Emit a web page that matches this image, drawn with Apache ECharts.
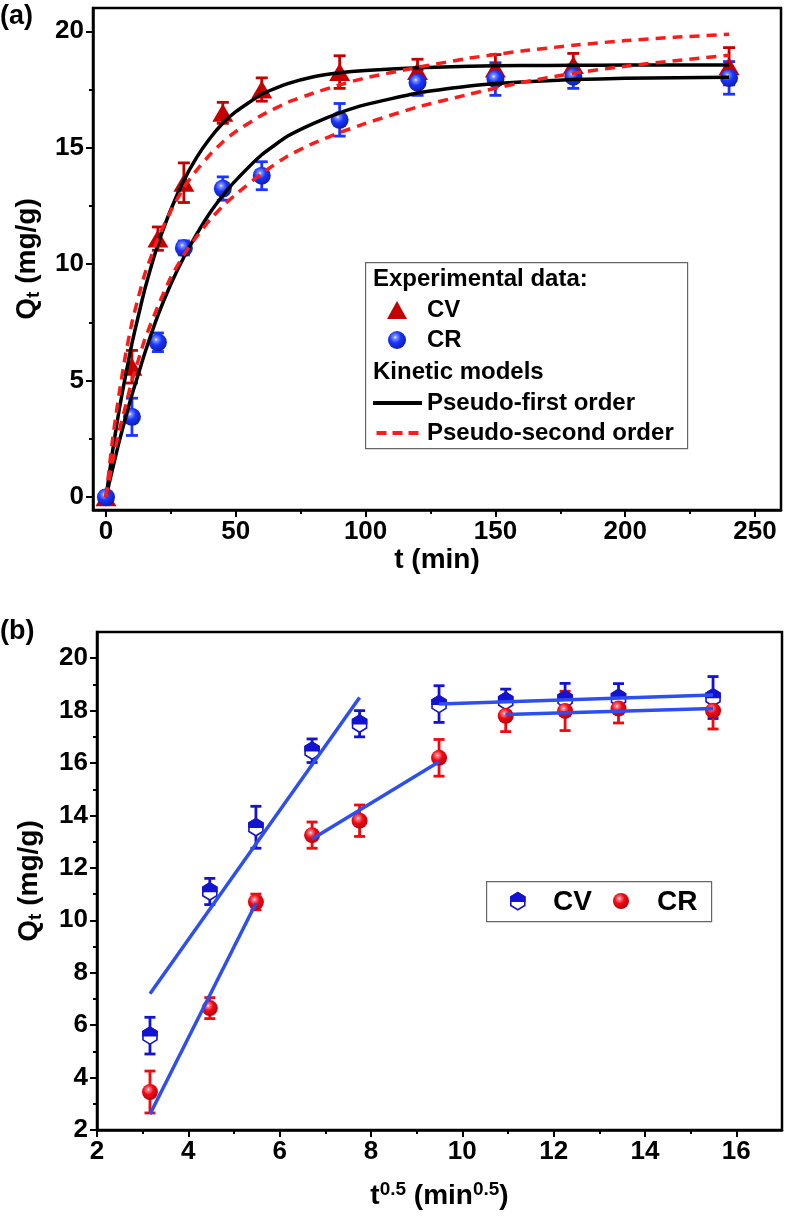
<!DOCTYPE html>
<html><head><meta charset="utf-8">
<script src="https://cdn.jsdelivr.net/npm/echarts@6/dist/echarts.min.js"></script>
<style>html,body{margin:0;padding:0;background:#fff}#c{width:786px;height:1222px}</style>
</head><body><div id="c"></div><script>
// ---------- data, panel (a) ----------
const timeMin = [0, 10, 20, 30, 45, 60, 90, 120, 150, 180, 240];
const cvQ   = [0, 5.6, 11.1, 13.5, 16.5, 17.5, 18.25, 18.3, 18.4, 18.55, 18.5];
const cvErr = [0, 0.7, 0.5, 0.85, 0.45, 0.5, 0.7, 0.5, 0.6, 0.5, 0.8];
const crQ   = [0, 3.45, 6.65, 10.7, 13.25, 13.8, 16.2, 17.8, 17.95, 18.05, 18.0];
const crErr = [0, 0.8, 0.4, 0.3, 0.5, 0.6, 0.7, 0.55, 0.7, 0.5, 0.7];
// model curves at these times
const modelT = [0, 2.5, 5, 7.5, 10, 12.5, 15, 20, 25, 30, 35, 40, 45, 50, 60, 70, 80, 90, 100, 120, 140, 160, 180, 200, 220, 240];
const cvPFO = [0, 1.95, 3.7, 5.2, 6.6, 7.8, 8.95, 10.85, 12.35, 13.6, 14.6, 15.4, 16.05, 16.55, 17.3, 17.75, 18.05, 18.22, 18.32, 18.44, 18.5, 18.53, 18.54, 18.55, 18.55, 18.55];
const cvPSO = [0, 2.45, 4.4, 6.1, 7.5, 8.6, 9.6, 11.1, 12.3, 13.3, 14.05, 14.7, 15.25, 15.7, 16.4, 16.95, 17.35, 17.7, 18.0, 18.45, 18.85, 19.15, 19.4, 19.6, 19.75, 19.87];
const crPFO = [0, 1.2, 2.35, 3.4, 4.4, 5.3, 6.2, 7.8, 9.15, 10.3, 11.3, 12.2, 12.95, 13.6, 14.7, 15.5, 16.05, 16.5, 16.85, 17.35, 17.65, 17.82, 17.93, 17.98, 18.01, 18.03];
const crPSO = [0, 1.5, 2.8, 3.9, 5.0, 5.9, 6.8, 8.2, 9.45, 10.4, 11.2, 11.9, 12.5, 13.0, 13.9, 14.65, 15.2, 15.65, 16.05, 16.75, 17.3, 17.8, 18.2, 18.5, 18.75, 18.97];
// ---------- data, panel (b) ----------
const sqrtT = [3.16, 4.47, 5.48, 6.71, 7.75, 9.49, 10.95, 12.25, 13.42, 15.49];
const cvQb   = [5.6, 11.1, 13.55, 16.47, 17.5, 18.25, 18.37, 18.44, 18.48, 18.5];
const cvErrb = [0.7, 0.5, 0.8, 0.45, 0.5, 0.7, 0.45, 0.6, 0.55, 0.8];
const crQb   = [3.45, 6.65, 10.7, 13.25, 13.8, 16.2, 17.8, 17.99, 18.08, 18.0];
const crErrb = [0.8, 0.4, 0.3, 0.5, 0.6, 0.7, 0.6, 0.75, 0.55, 0.7];
const cvFit1 = [[3.16,7.2],[7.75,18.5]];
const cvFit2 = [[9.49,18.25],[15.49,18.6]];
const crFit1 = [[3.16,2.6],[5.48,10.65]];
const crFit2 = [[6.71,13.1],[9.49,16.05]];
const crFit3 = [[10.95,17.85],[15.49,18.08]];
// ---------- tick labels ----------
const xTicksA = [0, 50, 100, 150, 200, 250];
const xMinorA = [25, 75, 125, 175, 225];
const yTicksA = [0, 5, 10, 15, 20];
const yMinorA = [2.5, 7.5, 12.5, 17.5];
const xTicksB = [2, 4, 6, 8, 10, 12, 14, 16];
const xMinorB = [3, 5, 7, 9, 11, 13, 15];
const yTicksB = [2, 4, 6, 8, 10, 12, 14, 16, 18, 20];
const yMinorB = [3, 5, 7, 9, 11, 13, 15, 17, 19];

const FONT = '"Liberation Sans", Arial, sans-serif';
const chart = echarts.init(document.getElementById('c'), null, {renderer: 'canvas'});

const cRedA = '#c40000', cBlueA = '#1a35ff', cBlueB = '#1414d0', cRedB = '#f00a10', cLineB = '#2d4ff0';

function sphere(base, hi, dark) {
  return {type: 'radial', x: 0.4, y: 0.35, r: 0.7, colorStops: [
    {offset: 0, color: '#ffffff'}, {offset: 0.13, color: hi}, {offset: 0.45, color: base}, {offset: 1, color: dark}]};
}

function errRender(color, capW, lw) {
  return function (params, api) {
    const x = api.value(0), y = api.value(1), e = api.value(2);
    const t = api.coord([x, y + e]), b = api.coord([x, y - e]);
    const h = capW / 2, st = {stroke: color, lineWidth: lw};
    return {type: 'group', children: [
      {type: 'line', shape: {x1: t[0], y1: t[1], x2: b[0], y2: b[1]}, style: st},
      {type: 'line', shape: {x1: t[0] - h, y1: t[1], x2: t[0] + h, y2: t[1]}, style: st},
      {type: 'line', shape: {x1: b[0] - h, y1: b[1], x2: b[0] + h, y2: b[1]}, style: st}
    ]};
  };
}

function hexShapes(cx, cy, w, h, color, z) {
  const full = [[0,-h],[w,-h/2],[w,h/2],[0,h],[-w,h/2],[-w,-h/2]].map(q => [cx + q[0], cy + q[1]]);
  const top = [[-w,0],[-w,-h/2],[0,-h],[w,-h/2],[w,0]].map(q => [cx + q[0], cy + q[1]]);
  const a = {type: 'polygon', shape: {points: full}, style: {fill: '#fff', stroke: color, lineWidth: 1.6}};
  const b = {type: 'polygon', shape: {points: top}, style: {fill: color, stroke: color, lineWidth: 1.6}};
  if (z !== undefined) { a.z = z; b.z = z; }
  return [a, b];
}

const axisLineS = {show: true, onZero: false, lineStyle: {color: '#000', width: 2.5}};
const tickLab = (vals, size) => ({customValues: vals, fontSize: size, fontWeight: 'bold', color: '#000', fontFamily: FONT, margin: 9});
const majorTick = vals => ({show: true, customValues: vals, length: 7, lineStyle: {color: '#000', width: 2}});
const minorAxis = (grid, min, max, vals, pos) => ({
  type: 'value', gridIndex: grid, min: min, max: max, position: pos, axisLine: {show: false, onZero: false},
  axisTick: {show: true, customValues: vals, length: 4, lineStyle: {color: '#000', width: 2}},
  axisLabel: {show: false}, splitLine: {show: false}
});
const nameStyle = {fontSize: 28, fontWeight: 'bold', color: '#000', fontFamily: FONT,
  rich: {n: {fontSize: 28, fontWeight: 'bold', fontFamily: FONT, color: '#000'},
         sub: {fontSize: 19, fontWeight: 'bold', fontFamily: FONT, color: '#000', padding: [13, 0, 0, 0]},
         sup: {fontSize: 19, fontWeight: 'bold', fontFamily: FONT, color: '#000', padding: [0, 0, 14, 0]}}};
const legendText = {fontSize: 24, fontWeight: 'bold', fontFamily: FONT, color: '#000', lineHeight: 24};

const option = {
  animation: false,
  backgroundColor: '#fff',
  title: [
    {text: '(a)', left: 0, top: 3, padding: 0, textStyle: {fontSize: 27, fontWeight: 'bold', fontFamily: FONT, color: '#000'}},
    {text: '(b)', left: 0, top: 618, padding: 0, textStyle: {fontSize: 27, fontWeight: 'bold', fontFamily: FONT, color: '#000'}}
  ],
  grid: [
    {left: 93, top: 8, width: 688, height: 502, show: true, borderColor: '#000', borderWidth: 2.5, backgroundColor: 'transparent'},
    {left: 97, top: 632, width: 685, height: 498, show: true, borderColor: '#000', borderWidth: 2.5, backgroundColor: 'transparent'}
  ],
  xAxis: [
    {type: 'value', gridIndex: 0, min: -5, max: 260, position: 'bottom', axisLine: axisLineS, axisTick: majorTick(xTicksA),
     axisLabel: tickLab(xTicksA, 26), splitLine: {show: false},
     name: 't (min)', nameLocation: 'middle', nameGap: 22, nameTextStyle: nameStyle},
    minorAxis(0, -5, 260, xMinorA, 'bottom'),
    {type: 'value', gridIndex: 1, min: 2, max: 17, position: 'bottom', axisLine: axisLineS, axisTick: majorTick(xTicksB),
     axisLabel: tickLab(xTicksB, 26), splitLine: {show: false},
     name: '{n|t}{sup|0.5}{n| (min}{sup|0.5}{n|)}', nameLocation: 'middle', nameGap: 50, nameTextStyle: nameStyle},
    minorAxis(1, 2, 17, xMinorB, 'bottom')
  ],
  yAxis: [
    {type: 'value', gridIndex: 0, min: -0.55, max: 21, position: 'left', axisLine: axisLineS, axisTick: majorTick(yTicksA),
     axisLabel: tickLab(yTicksA, 26), splitLine: {show: false},
     name: '{n|Q}{sub|t}{n| (mg/g)}', nameLocation: 'middle', nameGap: 50, nameTextStyle: nameStyle},
    minorAxis(0, -0.55, 21, yMinorA, 'left'),
    {type: 'value', gridIndex: 1, min: 2, max: 21, position: 'left', axisLine: axisLineS, axisTick: majorTick(yTicksB),
     axisLabel: tickLab(yTicksB, 26), splitLine: {show: false},
     name: '{n|Q}{sub|t}{n| (mg/g)}', nameLocation: 'middle', nameGap: 52, nameTextStyle: nameStyle},
    minorAxis(1, 2, 21, yMinorB, 'left')
  ],
  legend: [
    {orient: 'vertical', left: 387, top: 298, padding: 0, itemWidth: 20, itemHeight: 18, itemGap: 6,
     data: ['CV', 'CR'], selectedMode: false, z: 6, itemStyle: {opacity: 1},
     textStyle: Object.assign({padding: [0, 0, 0, 15]}, legendText)},
    {orient: 'vertical', left: 373, top: 391, padding: 0, itemWidth: 49, itemHeight: 24, itemGap: 6,
     data: [
       {name: 'Pseudo-first order', icon: 'path://M0 10H49V14H0Z M0 0H0.01V24H0Z'},
       {name: 'Pseudo-second order', icon: 'path://M0 10H10V14H0Z M16 10H26V14H16Z M32 10H42V14H32Z M0 0H0.01V24H0Z'}
     ],
     selectedMode: false, z: 6, textStyle: legendText}
  ],
  graphic: [
    {type: 'rect', left: 365, top: 262, z: 5, shape: {width: 322, height: 186},
     style: {fill: '#fff', stroke: '#666', lineWidth: 1.2}},
    {type: 'text', left: 373, top: 267, z: 6, style: {text: 'Experimental data:', fontSize: 24, fontWeight: 'bold', fontFamily: FONT, fill: '#000'}},
    {type: 'text', left: 373, top: 360, z: 6, style: {text: 'Kinetic models', fontSize: 24, fontWeight: 'bold', fontFamily: FONT, fill: '#000'}},
    // legend of panel (b)
    {type: 'rect', left: 486, top: 881, z: 5, shape: {width: 225, height: 40},
     style: {fill: '#fff', stroke: '#666', lineWidth: 1.2}},
    {type: 'group', left: 510, top: 892, z: 6, children: hexShapes(7, 8.5, 7, 8.5, cBlueB, 7)},
    {type: 'text', left: 553, top: 888, z: 6, style: {text: 'CV', fontSize: 28, fontWeight: 'bold', fontFamily: FONT, fill: '#000'}},
    {type: 'circle', left: 613, top: 893, z: 6, shape: {r: 8}, style: {fill: sphere(cRedB, '#ff7a8a', '#b00010')}},
    {type: 'text', left: 657, top: 888, z: 6, style: {text: 'CR', fontSize: 28, fontWeight: 'bold', fontFamily: FONT, fill: '#000'}}
  ],
  series: [
    // ----- panel (a) -----
    {type: 'custom', name: 'err CV', xAxisIndex: 0, yAxisIndex: 0, z: 2, renderItem: errRender(cRedA, 12, 2.8),
     data: timeMin.map((t, i) => [t, cvQ[i], cvErr[i]])},
    {type: 'custom', name: 'err CR', xAxisIndex: 0, yAxisIndex: 0, z: 2, renderItem: errRender(cBlueA, 12, 2.8),
     data: timeMin.map((t, i) => [t, crQ[i], crErr[i]])},
    {type: 'scatter', name: 'CV', xAxisIndex: 0, yAxisIndex: 0, z: 3, symbol: 'triangle', symbolSize: [21, 18],
     itemStyle: {color: cRedA, opacity: 1}, data: timeMin.map((t, i) => [t, cvQ[i]])},
    {type: 'scatter', name: 'CR', xAxisIndex: 0, yAxisIndex: 0, z: 3, symbol: 'circle', symbolSize: 18,
     itemStyle: {color: sphere(cBlueA, '#7f93ff', '#0a1ca0'), opacity: 1}, data: timeMin.map((t, i) => [t, crQ[i]])},
    {type: 'line', name: 'Pseudo-first order', xAxisIndex: 0, yAxisIndex: 0, z: 4, symbol: 'none', smooth: 0.15,
     lineStyle: {color: '#000', width: 3.5}, itemStyle: {color: '#000'}, data: modelT.map((t, i) => [t, cvPFO[i]])},
    {type: 'line', name: 'Pseudo-first order', xAxisIndex: 0, yAxisIndex: 0, z: 4, symbol: 'none', smooth: 0.15,
     lineStyle: {color: '#000', width: 3.5}, itemStyle: {color: '#000'}, data: modelT.map((t, i) => [t, crPFO[i]])},
    {type: 'line', name: 'Pseudo-second order', xAxisIndex: 0, yAxisIndex: 0, z: 4, symbol: 'none', smooth: 0.15,
     lineStyle: {color: '#ff1a1a', width: 3.5, type: [10, 7]}, itemStyle: {color: '#ff1a1a'}, data: modelT.map((t, i) => [t, cvPSO[i]])},
    {type: 'line', name: 'Pseudo-second order', xAxisIndex: 0, yAxisIndex: 0, z: 4, symbol: 'none', smooth: 0.15,
     lineStyle: {color: '#ff1a1a', width: 3.5, type: [10, 7]}, itemStyle: {color: '#ff1a1a'}, data: modelT.map((t, i) => [t, crPSO[i]])},
    // ----- panel (b) -----
    {type: 'custom', name: 'err CV b', xAxisIndex: 2, yAxisIndex: 2, z: 2, renderItem: errRender(cBlueB, 11, 2.8),
     data: sqrtT.map((s, i) => [s, cvQb[i], cvErrb[i]])},
    {type: 'custom', name: 'err CR b', xAxisIndex: 2, yAxisIndex: 2, z: 2, renderItem: errRender(cRedB, 11, 2.8),
     data: sqrtT.map((s, i) => [s, crQb[i], crErrb[i]])},
    {type: 'custom', name: 'CV b', xAxisIndex: 2, yAxisIndex: 2, z: 3,
     renderItem: function (params, api) {
       const p = api.coord([api.value(0), api.value(1)]);
       return {type: 'group', children: hexShapes(p[0], p[1], 7, 8.5, cBlueB)};
     },
     data: sqrtT.map((s, i) => [s, cvQb[i]])},
    {type: 'scatter', name: 'CR b', xAxisIndex: 2, yAxisIndex: 2, z: 3, symbol: 'circle', symbolSize: 16,
     itemStyle: {color: sphere(cRedB, '#ff7a8a', '#b00010'), opacity: 1}, data: sqrtT.map((s, i) => [s, crQb[i]])},
    ...[cvFit1, cvFit2, crFit1, crFit2, crFit3].map((d, k) => ({
      type: 'line', name: 'fit' + k, xAxisIndex: 2, yAxisIndex: 2, z: 4, symbol: 'none',
      lineStyle: {color: cLineB, width: 3.5}, data: d}))
  ]
};
chart.setOption(option);
</script></body></html>
